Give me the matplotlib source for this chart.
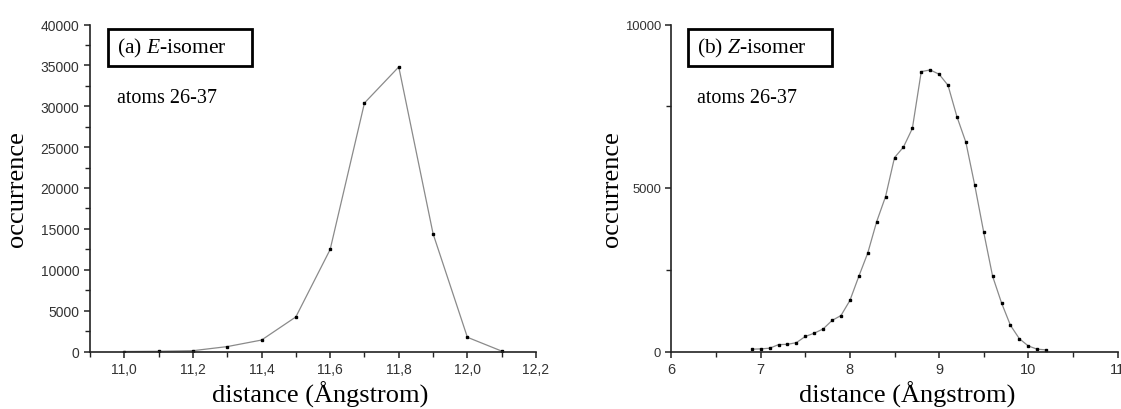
import matplotlib.pyplot as plt
from matplotlib.patches import Rectangle
from matplotlib.ticker import MultipleLocator, FixedLocator

# E-isomer distance histogram (atoms 26-37)
e_dist = [11.0, 11.1, 11.2, 11.3, 11.4, 11.5, 11.6, 11.7, 11.8, 11.9, 12.0, 12.1]
e_count = [0, 30, 100, 600, 1400, 4230, 12480, 30400, 34810, 14400, 1740, 50]

# Z-isomer distance histogram (atoms 26-37)
z_dist = [6.9, 7.0, 7.1, 7.2, 7.3, 7.4, 7.5, 7.6, 7.7, 7.8, 7.9,
          8.0, 8.1, 8.2, 8.3, 8.4, 8.5, 8.6, 8.7, 8.8, 8.9,
          9.0, 9.1, 9.2, 9.3, 9.4, 9.5, 9.6, 9.7, 9.8, 9.9,
          10.0, 10.1, 10.2]
z_count = [70, 80, 100, 210, 220, 270, 460, 560, 690, 950, 1100,
           1560, 2300, 3010, 3970, 4740, 5930, 6250, 6820, 8560, 8610,
           8480, 8140, 7180, 6400, 5080, 3650, 2300, 1485, 800, 390,
           170, 70, 50]

e_xticks = [11.0, 11.2, 11.4, 11.6, 11.8, 12.0, 12.2]
e_xlabels = ["11,0", "11,2", "11,4", "11,6", "11,8", "12,0", "12,2"]
e_yticks = [0, 5000, 10000, 15000, 20000, 25000, 30000, 35000, 40000]
z_xticks = [6, 7, 8, 9, 10, 11]
z_yticks = [0, 5000, 10000]

plt.rcParams['mathtext.fontset'] = 'custom'
plt.rcParams['mathtext.rm'] = 'Liberation Serif'
plt.rcParams['mathtext.it'] = 'Liberation Serif:italic'

W, H = 1121, 410
fig = plt.figure(figsize=(W / 100, H / 100), dpi=100)

ax_w = 446 / W
ax_h = 327 / H
ax_b = (H - 352.5) / H
ax1 = fig.add_axes([90 / W, ax_b, ax_w, ax_h])
ax2 = fig.add_axes([671.5 / W, ax_b, ax_w, ax_h])

serif = 'Liberation Serif'
sans = 'Liberation Sans'


def style_axes(ax, xsize, ysize):
    for side in ('top', 'right'):
        ax.spines[side].set_visible(False)
    for side in ('left', 'bottom'):
        ax.spines[side].set_linewidth(1.2)
        ax.spines[side].set_color('#222222')
    ax.tick_params(which='major', direction='out', length=4, width=1.1,
                   color='#222222', labelcolor='#333333', pad=3.5)
    ax.tick_params(which='minor', direction='out', length=3.5, width=1.0,
                   color='#222222')
    ax.tick_params(axis='x', labelsize=xsize)
    ax.tick_params(axis='y', labelsize=ysize)
    for lab in ax.get_xticklabels() + ax.get_yticklabels():
        lab.set_fontfamily(sans)


# (a) E-isomer
ax1.plot(e_dist, e_count, color='#8a8a8a', lw=0.9, marker='s', ms=2,
         mfc='black', mec='black')
ax1.set_xlim(10.9, 12.2)
ax1.set_ylim(0, 40000)
ax1.xaxis.set_major_locator(FixedLocator(e_xticks))
ax1.set_xticklabels(e_xlabels)
ax1.xaxis.set_minor_locator(MultipleLocator(0.1))
ax1.set_yticks(e_yticks)
ax1.yaxis.set_minor_locator(MultipleLocator(2500))
style_axes(ax1, 10, 10)

# (b) Z-isomer
ax2.plot(z_dist, z_count, color='#8a8a8a', lw=0.9, marker='s', ms=2,
         mfc='black', mec='black')
ax2.set_xlim(6, 11)
ax2.set_ylim(0, 10000)
ax2.set_xticks(z_xticks)
ax2.xaxis.set_minor_locator(MultipleLocator(0.5))
ax2.set_yticks(z_yticks)
ax2.yaxis.set_minor_locator(MultipleLocator(2500))
style_axes(ax2, 10.5, 9.4)

for ax, tag, name, ylx, xlx in ((ax1, '(a)', 'E', -0.139, 0.516),
                                (ax2, '(b)', 'Z', -0.109, 0.529)):
    ax.set_ylabel('occurrence', fontfamily=serif, fontsize=19)
    ax.yaxis.set_label_coords(ylx, 0.5)
    ax.set_xlabel('distance (Ångstrom)', fontfamily=serif, fontsize=19)
    ax.xaxis.set_label_coords(xlx, -0.09)
    box_x = 0.040 if tag == '(a)' else 0.037
    ax.add_patch(Rectangle((box_x, 0.874), 0.323, 0.112, transform=ax.transAxes,
                           fill=False, edgecolor='black', lw=2, clip_on=False))
    ax.text(box_x + 0.02, 0.931, tag + ' $\\mathit{' + name + '}$-isomer',
            transform=ax.transAxes, fontfamily=serif, fontsize=15.5,
            va='center', ha='left')
    ax.text(box_x + 0.02, 0.778, 'atoms 26-37', transform=ax.transAxes,
            fontfamily=serif, fontsize=14.5, va='center', ha='left')

fig.savefig('out.png', dpi=100)
